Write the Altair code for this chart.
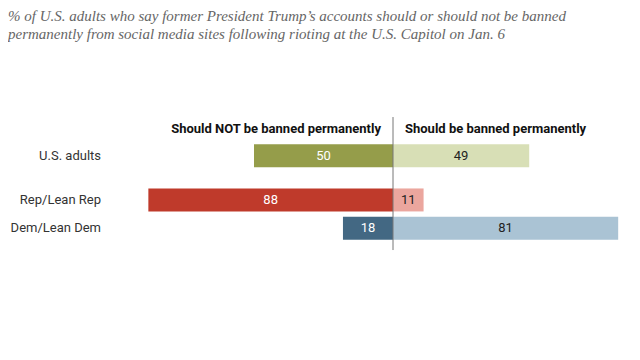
import altair as alt
import pandas as pd

# ---- data ----
groups = ["U.S. adults", "Rep/Lean Rep", "Dem/Lean Dem"]
not_banned = [50, 88, 18]
banned = [49, 11, 81]
header_left = "Should NOT be banned permanently"
header_right = "Should be banned permanently"
title_lines = [
    "% of U.S. adults who say former President Trump\u2019s accounts should or should not be banned",
    "permanently from social media sites following rioting at the U.S. Capitol on Jan. 6",
]

# ---- layout / style ----
ROW_POS = {"U.S. adults": 0.0, "Rep/Lean Rep": 1.56, "Dem/Lean Dem": 2.56}
HALF = 0.406
LEFT_COLORS = {"U.S. adults": "#959D4A", "Rep/Lean Rep": "#BF3A2B", "Dem/Lean Dem": "#436883"}
RIGHT_COLORS = {"U.S. adults": "#D8DFB6", "Rep/Lean Rep": "#EBA69E", "Dem/Lean Dem": "#AAC3D4"}
LEFT_TEXT = {"U.S. adults": "#FFFFFF", "Rep/Lean Rep": "#FFFFFF", "Dem/Lean Dem": "#FFFFFF"}
RIGHT_TEXT = {"U.S. adults": "#222222", "Rep/Lean Rep": "#222222", "Dem/Lean Dem": "#222222"}

W, H, PAD_TOP = 624, 299, 45
ZERO_PX, PX_PER_UNIT = 385.0, 2.78
ROW0_PX, PX_PER_ROW = 102.8, 28.3
XMIN = -ZERO_PX / PX_PER_UNIT
XMAX = (W - ZERO_PX) / PX_PER_UNIT
YTOP = -ROW0_PX / PX_PER_ROW
YBOT = (H - ROW0_PX) / PX_PER_ROW

rows = []
for g, nb, b in zip(groups, not_banned, banned):
    p = ROW_POS[g]
    rows.append(dict(group=g, key=g + "|L", start=0, end=-nb, mid=-nb / 2, label=str(nb),
                     y0=p - HALF, y1=p + HALF, yc=p, tcolor=LEFT_TEXT[g]))
    rows.append(dict(group=g, key=g + "|R", start=0, end=b, mid=b / 2, label=str(b),
                     y0=p - HALF, y1=p + HALF, yc=p, tcolor=RIGHT_TEXT[g]))
df = pd.DataFrame(rows)

color_domain = [g + "|L" for g in groups] + [g + "|R" for g in groups]
color_range = [LEFT_COLORS[g] for g in groups] + [RIGHT_COLORS[g] for g in groups]

xs = alt.Scale(domain=[XMIN, XMAX], zero=False, nice=False)
ys = alt.Scale(domain=[YTOP, YBOT], zero=False, nice=False, reverse=True)

base = alt.Chart(df)

bars = base.mark_bar(strokeWidth=0).encode(
    x=alt.X("start:Q", scale=xs, axis=None),
    x2="end:Q",
    y=alt.Y("y0:Q", scale=ys, axis=None),
    y2="y1:Q",
    color=alt.Color("key:N", scale=alt.Scale(domain=color_domain, range=color_range), legend=None),
)

values = base.mark_text(font="Roboto", fontSize=13, baseline="middle", align="center").encode(
    x=alt.X("mid:Q", scale=xs),
    y=alt.Y("yc:Q", scale=ys),
    text="label:N",
    color=alt.Color("tcolor:N", scale=None),
)

cat_df = pd.DataFrame({"group": groups, "yc": [ROW_POS[g] for g in groups]})
cats = alt.Chart(cat_df).mark_text(font="Roboto", fontSize=13, align="right", baseline="middle",
                                   color="#333333").encode(
    x=alt.value(93),
    y=alt.Y("yc:Q", scale=ys),
    text="group:N",
)

hdr_df = pd.DataFrame({"text": [header_left, header_right], "x": [0, 0], "yc": [-0.947, -0.947],
                       "side": ["L", "R"]})
hdr_left = alt.Chart(hdr_df).transform_filter("datum.side == 'L'").mark_text(
    font="Roboto", fontSize=13, fontWeight="bold", align="right", baseline="middle", dx=-12, color="#111111"
).encode(x=alt.X("x:Q", scale=xs), y=alt.Y("yc:Q", scale=ys), text="text:N")
hdr_right = alt.Chart(hdr_df).transform_filter("datum.side == 'R'").mark_text(
    font="Roboto", fontSize=13, fontWeight="bold", align="left", baseline="middle", dx=12, color="#111111"
).encode(x=alt.X("x:Q", scale=xs), y=alt.Y("yc:Q", scale=ys), text="text:N")

rule_df = pd.DataFrame({"x": [0], "ya": [-1.37], "yb": [3.33]})
rule = alt.Chart(rule_df).mark_rule(color="#777777", strokeWidth=1).encode(
    x=alt.X("x:Q", scale=xs), y=alt.Y("ya:Q", scale=ys), y2="yb:Q"
)

chart = alt.layer(bars, rule, values, cats, hdr_left, hdr_right).properties(
    width=W,
    height=H,
    autosize=alt.AutoSizeParams(type="none"),
    padding={"left": 0, "right": 0, "top": PAD_TOP, "bottom": 0},
    title=alt.Title(
        title_lines,
        anchor="start",
        frame="group",
        font="Liberation Serif",
        fontStyle="italic",
        fontWeight="normal",
        fontSize=15,
        lineHeight=18,
        color="#666666",
        offset=11,
    ),
).configure_view(stroke=None)

chart.save("out.html", embed_options={"renderer": "svg", "actions": False})
